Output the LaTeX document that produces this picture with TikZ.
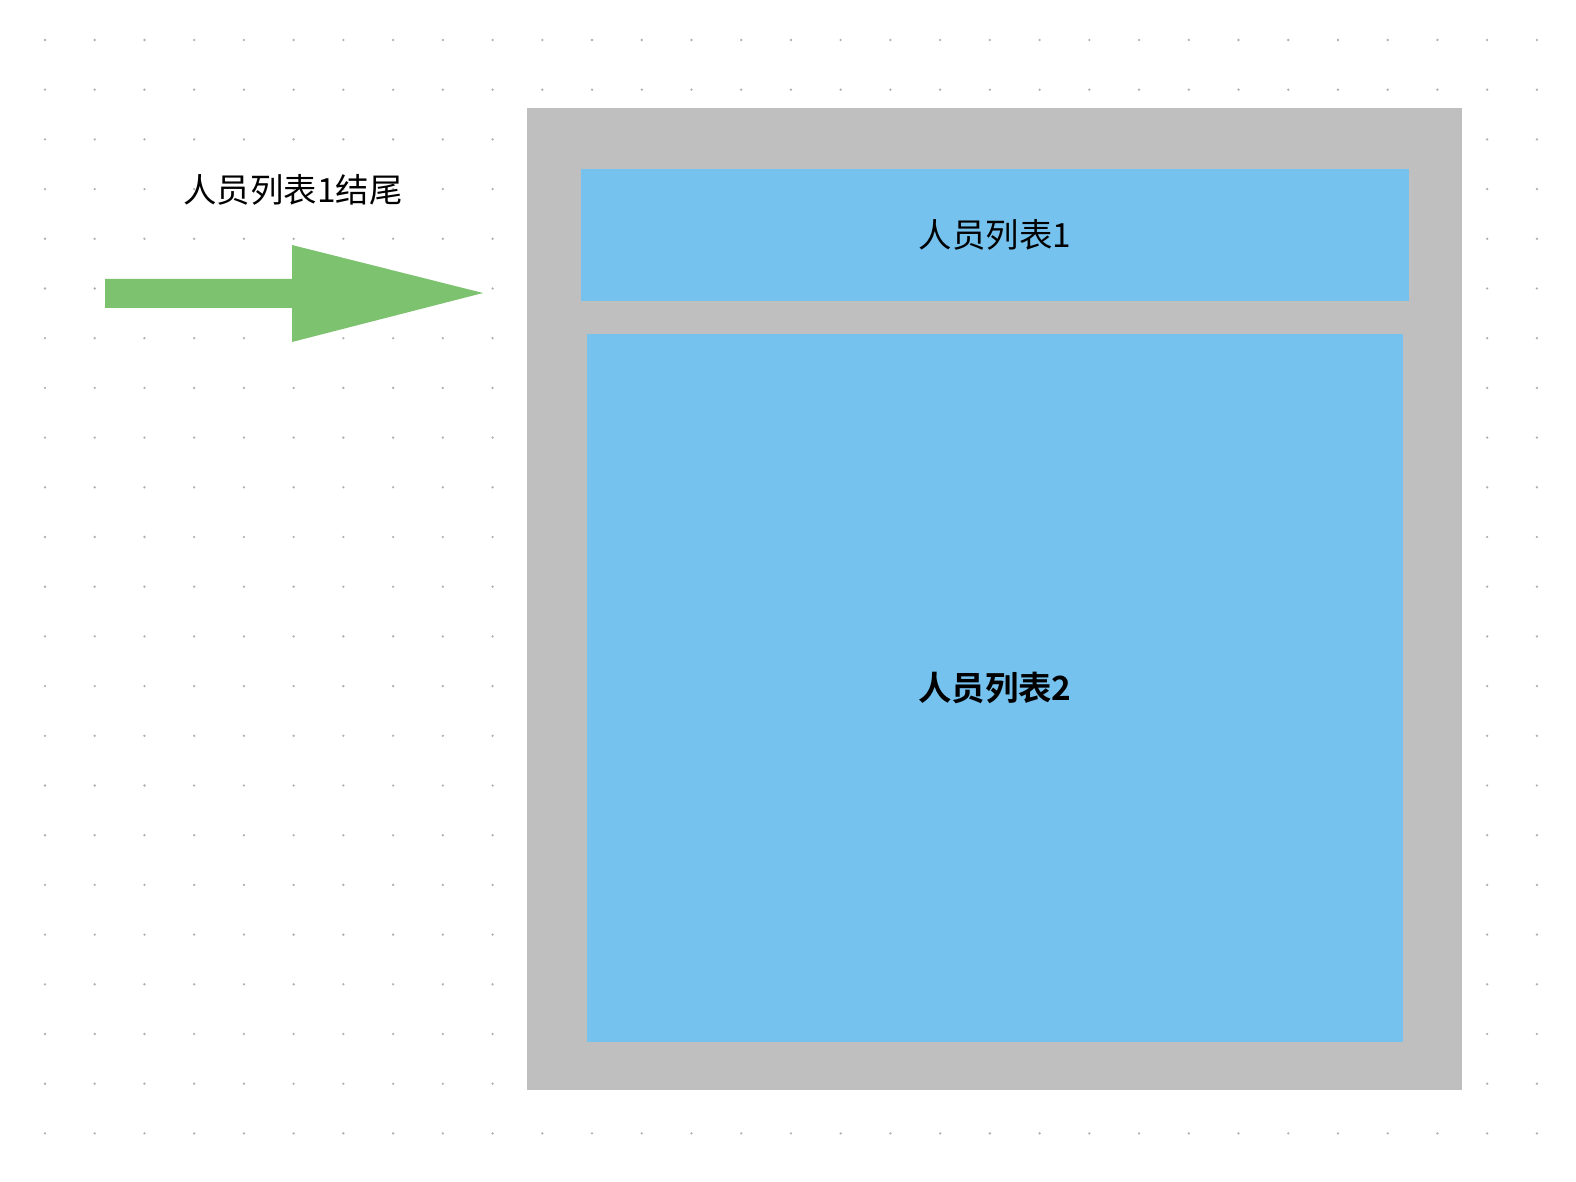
\documentclass[tikz,border=0pt]{standalone}
\usepackage{fontspec}
\newfontfamily\cjk{Noto Sans CJK SC}[BoldFont={Noto Sans CJK SC Bold}]
\usepackage{tikz}
\usetikzlibrary{positioning}
\definecolor{frame}{HTML}{BFBFBF}
\definecolor{listblue}{HTML}{76C2EF}
\definecolor{arrowgreen}{HTML}{7CC26F}
\definecolor{griddot}{HTML}{B0B0B0}
\tikzset{
  box/.style={fill=listblue, draw=none, inner sep=0pt},
  label/.style={font=\cjk\fontsize{19}{22}\selectfont, text=black}
}
\begin{document}
\begin{tikzpicture}[x=0.02cm, y=-0.02cm]
    \useasboundingbox (0,0) rectangle (1576,1182);
    % dotted background
    \foreach \i in {0,...,30}
      \foreach \j in {0,...,22}
        \fill[griddot] (45+\i*49.73, 40+\j*49.7) circle (1.3);
    \fill[frame] (527,108) rectangle (1462,1090);
    \node[box, minimum width=828*0.02cm, minimum height=132*0.02cm] (list1) at (995,235) {};
    \node[label] at (list1) {人员列表1};
    \node[box, minimum width=816*0.02cm, minimum height=708*0.02cm] (list2) at (995,688) {};
    \node[label, font=\cjk\bfseries\fontsize{19}{22}\selectfont] at (list2) {人员列表2};
    % the arrow
    \fill[arrowgreen] (105,279) -- (292,279) -- (292,245) -- (483,293)
      -- (292,342) -- (292,308) -- (105,308) -- cycle;
    \node[label] (tail) at (293,190) {人员列表1结尾};
\end{tikzpicture}
\end{document}
